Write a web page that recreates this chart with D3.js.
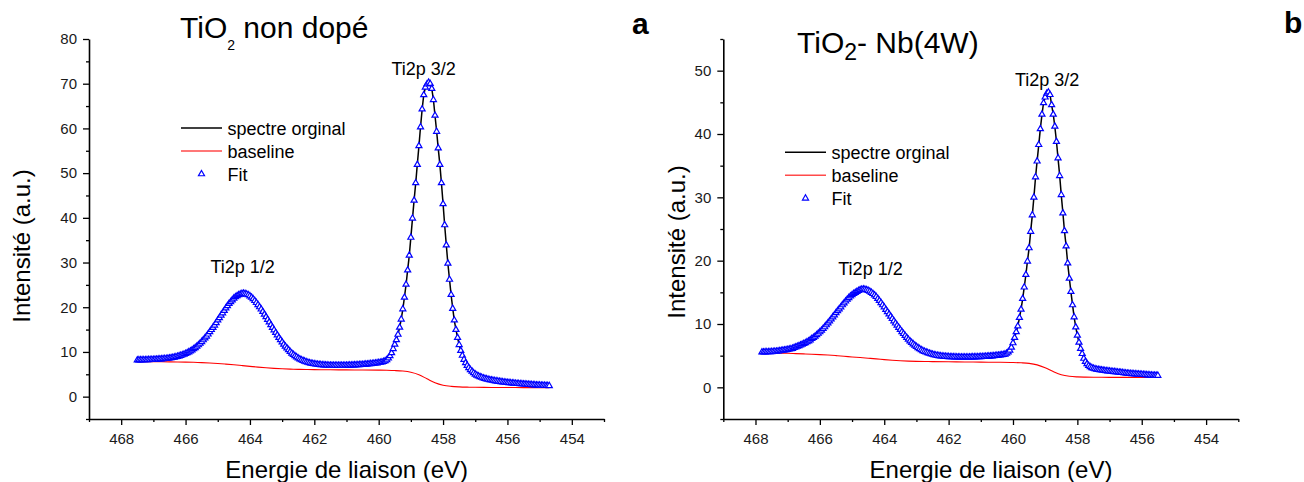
<!DOCTYPE html>
<html><head><meta charset="utf-8">
<script src="https://cdn.jsdelivr.net/npm/d3@7"></script>
<style>body{margin:0;background:#fff}svg{display:block}</style>
</head><body><svg id="c" width="1304" height="482"></svg>
<script>
// ---------- Panel a : TiO2 non dopé ----------
const energyA = [
467.5,467.45,467.4,467.35,467.3,467.25,467.2,467.15,467.1,467.05,
467,466.95,466.9,466.85,466.8,466.75,466.7,466.65,466.6,466.55,
466.5,466.45,466.4,466.35,466.3,466.25,466.2,466.15,466.1,466.05,
466,465.95,465.9,465.85,465.8,465.75,465.7,465.65,465.6,465.55,
465.5,465.45,465.4,465.35,465.3,465.25,465.2,465.15,465.1,465.05,
465,464.95,464.9,464.85,464.8,464.75,464.7,464.65,464.6,464.55,
464.5,464.45,464.4,464.35,464.3,464.25,464.2,464.15,464.1,464.05,
464,463.95,463.9,463.85,463.8,463.75,463.7,463.65,463.6,463.55,
463.5,463.45,463.4,463.35,463.3,463.25,463.2,463.15,463.1,463.05,
463,462.95,462.9,462.85,462.8,462.75,462.7,462.65,462.6,462.55,
462.5,462.45,462.4,462.35,462.3,462.25,462.2,462.15,462.1,462.05,
462,461.95,461.9,461.85,461.8,461.75,461.7,461.65,461.6,461.55,
461.5,461.45,461.4,461.35,461.3,461.25,461.2,461.15,461.1,461.05,
461,460.95,460.9,460.85,460.8,460.75,460.7,460.65,460.6,460.55,
460.5,460.45,460.4,460.35,460.3,460.25,460.2,460.15,460.1,460.05,
460,459.95,459.9,459.85,459.8,459.75,459.7,459.65,459.6,459.55,
459.5,459.45,459.4,459.35,459.3,459.25,459.2,459.15,459.1,459.05,
459,458.95,458.9,458.85,458.8,458.75,458.7,458.65,458.6,458.55,
458.5,458.45,458.4,458.35,458.3,458.25,458.2,458.15,458.1,458.05,
458,457.95,457.9,457.85,457.8,457.75,457.7,457.65,457.6,457.55,
457.5,457.45,457.4,457.35,457.3,457.25,457.2,457.15,457.1,457.05,
457,456.95,456.9,456.85,456.8,456.75,456.7,456.65,456.6,456.55,
456.5,456.45,456.4,456.35,456.3,456.25,456.2,456.15,456.1,456.05,
456,455.95,455.9,455.85,455.8,455.75,455.7,455.65,455.6,455.55,
455.5,455.45,455.4,455.35,455.3,455.25,455.2,455.15,455.1,455.05,
455,454.95,454.9,454.85,454.8,454.75,454.7];
const fitA = [
8.16,8.18,8.19,8.20,8.20,8.22,8.23,8.24,8.26,8.28,
8.29,8.32,8.34,8.37,8.38,8.41,8.44,8.49,8.51,8.56,
8.61,8.66,8.72,8.80,8.88,8.97,9.08,9.19,9.32,9.45,
9.63,9.80,9.98,10.19,10.40,10.67,10.92,11.25,11.55,11.89,
12.27,12.67,13.08,13.50,13.96,14.47,14.96,15.45,15.96,16.51,
17.1,17.6,18.2,18.7,19.25,19.8,20.3,20.8,21.2,21.6,
22.0,22.3,22.55,22.75,22.9,23.05,23.1,23.0,22.9,22.75,
22.5,22.2,21.85,21.45,21.0,20.55,20.05,19.55,19.0,18.4,
17.85,17.25,16.65,16.05,15.45,14.9,14.3,13.75,13.2,12.7,
12.2,11.7,11.25,10.85,10.45,10.05,9.7,9.4,9.1,8.85,
8.6,8.4,8.2,8.05,7.9,7.75,7.65,7.55,7.45,7.38,
7.3,7.25,7.2,7.15,7.12,7.09,7.06,7.04,7.02,7.0,
6.99,6.98,6.97,6.97,6.96,6.96,6.96,6.97,6.97,6.98,
6.99,7.0,7.01,7.02,7.04,7.06,7.08,7.1,7.12,7.14,
7.17,7.2,7.23,7.26,7.3,7.34,7.38,7.42,7.47,7.52,
7.58,7.65,7.73,7.83,7.98,8.2,8.6,9.1,9.8,10.7,
11.7,12.7,13.9,15.5,17.3,19.6,22.2,25.1,28.3,31.6,
35.6,39.9,43.9,47.8,51.9,56.1,60.3,64.3,67.5,69.2,
69.9,70.3,70.0,68.9,66.4,62.9,59.3,55.6,51.9,47.8,
43.1,38.4,33.9,29.8,26.2,22.8,19.7,17.1,15.0,13.2,
11.6,10.3,9.2,8.3,7.55,6.95,6.45,6.0,5.65,5.3,
5.0,4.78,4.58,4.42,4.28,4.15,4.03,3.93,3.84,3.76,
3.69,3.62,3.55,3.49,3.43,3.37,3.32,3.27,3.22,3.18,
3.14,3.10,3.06,3.02,2.98,2.95,2.92,2.89,2.86,2.83,
2.80,2.77,2.74,2.71,2.68,2.65,2.63,2.60,2.58,2.56,
2.54,2.52,2.50,2.48,2.46,2.44,2.42];
const spectreA = [
8.05,8.21,8.12,8.27,8.15,8.25,8.30,8.18,8.29,8.22,
8.35,8.26,8.40,8.33,8.45,8.36,8.50,8.44,8.58,8.52,
8.57,8.72,8.68,8.86,8.83,9.03,9.02,9.26,9.28,9.52,
9.60,9.86,9.95,10.25,10.36,10.72,10.88,11.30,11.50,11.95,
12.22,12.73,13.02,13.57,13.90,14.53,14.90,15.52,15.90,16.58,
17.02,17.68,18.12,18.78,19.18,19.88,20.22,20.88,21.12,21.68,
21.92,22.38,22.48,22.83,22.82,23.12,23.02,23.08,22.82,22.82,
22.58,22.12,21.93,21.38,21.08,20.47,20.13,19.47,19.08,18.33,
17.92,17.18,16.72,15.98,15.52,14.83,14.37,13.68,13.27,12.63,
12.27,11.63,11.32,10.78,10.52,9.98,9.77,9.33,9.17,8.78,
8.67,8.33,8.27,7.98,7.97,7.68,7.72,7.48,7.52,7.31,
7.37,7.18,7.27,7.08,7.19,7.02,7.13,6.97,7.09,6.93,
7.06,6.91,7.04,6.90,7.03,6.89,7.03,6.90,7.04,6.91,
7.06,6.93,7.08,6.95,7.11,6.99,7.15,7.03,7.19,7.07,
7.24,7.13,7.30,7.19,7.37,7.27,7.45,7.35,7.54,7.45,
7.65,7.58,7.80,7.76,8.05,8.13,8.67,9.03,9.87,10.63,
11.77,12.63,13.97,15.43,17.37,19.53,22.27,25.03,28.37,31.53,
35.67,39.83,43.97,47.73,51.97,56.03,60.37,64.23,67.57,69.13,
69.97,70.23,70.07,68.83,66.47,62.83,59.37,55.53,51.97,47.73,
43.17,38.33,33.97,29.73,26.27,22.73,19.77,17.03,15.07,13.13,
11.67,10.23,9.27,8.23,7.62,6.88,6.52,5.93,5.72,5.23,
5.07,4.71,4.65,4.35,4.35,4.08,4.10,3.86,3.91,3.69,
3.76,3.55,3.62,3.42,3.50,3.30,3.39,3.20,3.29,3.11,
3.21,3.03,3.13,2.95,3.05,2.88,2.99,2.82,2.93,2.76,
2.87,2.70,2.81,2.64,2.75,2.58,2.70,2.53,2.65,2.49,
2.61,2.45,2.57,2.41,2.53,2.37,2.45];
const baseEnergyA = [467.5,467.25,467,466.75,466.5,466.25,466,465.75,465.5,465.25,
465,464.75,464.5,464.25,464,463.75,463.5,463.25,463,462.75,
462.5,462.25,462,461.5,461,460.5,460,459.75,459.5,459.25,
459,458.75,458.5,458.25,458,457.75,457.5,457.25,457,456.5,
456,455.5,455,454.7];
const baselineA = [7.82,7.82,7.81,7.80,7.78,7.76,7.73,7.68,7.62,7.53,
7.42,7.28,7.12,6.95,6.78,6.61,6.46,6.33,6.23,6.16,
6.11,6.07,6.04,6.00,5.98,5.96,5.93,5.90,5.84,5.72,
5.45,4.90,4.00,3.10,2.55,2.30,2.18,2.12,2.09,2.06,
2.04,2.02,2.01,2.00];

// ---------- Panel b : TiO2- Nb(4W) ----------
const energyB = [
467.8,467.75,467.7,467.65,467.6,467.55,467.5,467.45,467.4,467.35,
467.3,467.25,467.2,467.15,467.1,467.05,467,466.95,466.9,466.85,
466.8,466.75,466.7,466.65,466.6,466.55,466.5,466.45,466.4,466.35,
466.3,466.25,466.2,466.15,466.1,466.05,466,465.95,465.9,465.85,
465.8,465.75,465.7,465.65,465.6,465.55,465.5,465.45,465.4,465.35,
465.3,465.25,465.2,465.15,465.1,465.05,465,464.95,464.9,464.85,
464.8,464.75,464.7,464.65,464.6,464.55,464.5,464.45,464.4,464.35,
464.3,464.25,464.2,464.15,464.1,464.05,464,463.95,463.9,463.85,
463.8,463.75,463.7,463.65,463.6,463.55,463.5,463.45,463.4,463.35,
463.3,463.25,463.2,463.15,463.1,463.05,463,462.95,462.9,462.85,
462.8,462.75,462.7,462.65,462.6,462.55,462.5,462.45,462.4,462.35,
462.3,462.25,462.2,462.15,462.1,462.05,462,461.95,461.9,461.85,
461.8,461.75,461.7,461.65,461.6,461.55,461.5,461.45,461.4,461.35,
461.3,461.25,461.2,461.15,461.1,461.05,461,460.95,460.9,460.85,
460.8,460.75,460.7,460.65,460.6,460.55,460.5,460.45,460.4,460.35,
460.3,460.25,460.2,460.15,460.1,460.05,460,459.95,459.9,459.85,
459.8,459.75,459.7,459.65,459.6,459.55,459.5,459.45,459.4,459.35,
459.3,459.25,459.2,459.15,459.1,459.05,459,458.95,458.9,458.85,
458.8,458.75,458.7,458.65,458.6,458.55,458.5,458.45,458.4,458.35,
458.3,458.25,458.2,458.15,458.1,458.05,458,457.95,457.9,457.85,
457.8,457.75,457.7,457.65,457.6,457.55,457.5,457.45,457.4,457.35,
457.3,457.25,457.2,457.15,457.1,457.05,457,456.95,456.9,456.85,
456.8,456.75,456.7,456.65,456.6,456.55,456.5,456.45,456.4,456.35,
456.3,456.25,456.2,456.15,456.1,456.05,456,455.95,455.9,455.85,
455.8,455.75,455.7,455.65,455.6,455.55,455.5];
const fitB = [
5.55,5.56,5.57,5.58,5.59,5.60,5.61,5.63,5.65,5.67,
5.72,5.75,5.79,5.83,5.87,5.91,5.96,6.01,6.06,6.12,
6.25,6.35,6.45,6.55,6.66,6.77,6.89,7.01,7.16,7.3,
7.47,7.67,7.85,8.05,8.27,8.5,8.74,8.98,9.27,9.53,
9.84,10.14,10.44,10.76,11.1,11.4,11.75,12.07,12.36,12.65,
13.0,13.3,13.59,13.88,14.14,14.39,14.6,14.8,14.96,15.1,
15.25,15.38,15.45,15.5,15.45,15.38,15.28,15.15,14.97,14.78,
14.55,14.3,14.0,13.68,13.35,13.0,12.65,12.27,11.91,11.56,
11.2,10.83,10.47,10.12,9.77,9.44,9.1,8.77,8.46,8.15,
7.85,7.56,7.3,7.05,6.83,6.62,6.42,6.24,6.08,5.92,
5.77,5.65,5.55,5.45,5.36,5.28,5.2,5.13,5.07,5.02,
4.98,4.94,4.91,4.88,4.86,4.84,4.82,4.81,4.80,4.79,
4.78,4.77,4.77,4.76,4.76,4.76,4.76,4.76,4.76,4.77,
4.77,4.78,4.78,4.79,4.80,4.81,4.82,4.83,4.85,4.86,
4.88,4.90,4.92,4.94,4.96,4.99,5.02,5.05,5.08,5.12,
5.15,5.22,5.35,5.55,5.85,6.3,7.0,7.85,8.75,9.65,
11.0,12.3,14.0,15.8,17.8,19.9,22.0,24.6,27.2,30.0,
33.2,35.7,38.3,40.8,43.1,44.9,45.8,46.4,46.6,46.2,
44.6,43.1,41.2,38.8,36.2,33.4,30.4,27.5,24.7,22.3,
19.6,17.2,15.1,13.0,11.1,9.5,8.2,7.1,6.1,5.3,
4.55,4.05,3.7,3.42,3.22,3.08,2.98,2.9,2.84,2.79,
2.75,2.71,2.67,2.63,2.6,2.57,2.54,2.51,2.48,2.45,
2.42,2.39,2.36,2.33,2.3,2.27,2.24,2.21,2.18,2.16,
2.14,2.12,2.1,2.08,2.06,2.04,2.02,2.0,1.98,1.96,
1.94,1.92,1.90,1.89,1.88,1.87,1.86];
const spectreB = [
5.48,5.62,5.51,5.64,5.53,5.66,5.55,5.69,5.59,5.73,
5.66,5.81,5.73,5.89,5.81,5.97,5.90,6.07,6.00,6.18,
6.19,6.41,6.39,6.61,6.60,6.83,6.83,7.07,7.10,7.36,
7.41,7.73,7.79,8.11,8.21,8.56,8.68,9.04,9.21,9.59,
9.78,10.20,10.38,10.82,11.04,11.46,11.69,12.13,12.30,12.71,
12.94,13.36,13.53,13.94,14.08,14.45,14.54,14.86,14.90,15.16,
15.19,15.44,15.39,15.56,15.39,15.44,15.22,15.21,14.91,14.84,
14.49,14.36,13.94,13.74,13.29,13.06,12.59,12.33,11.85,11.62,
11.14,10.89,10.41,10.18,9.71,9.50,9.04,8.83,8.40,8.21,
7.79,7.62,7.24,7.11,6.77,6.68,6.36,6.30,6.02,5.98,
5.71,5.71,5.49,5.51,5.30,5.34,5.14,5.19,5.01,5.08,
4.92,5.00,4.85,4.94,4.80,4.90,4.76,4.87,4.74,4.85,
4.72,4.83,4.71,4.82,4.70,4.82,4.70,4.82,4.70,4.83,
4.71,4.84,4.72,4.85,4.74,4.87,4.76,4.89,4.79,4.92,
4.82,4.96,4.86,5.00,4.90,5.05,4.96,5.11,5.02,5.18,
5.09,5.28,5.29,5.61,5.79,6.36,6.94,7.91,8.69,9.71,
10.94,12.36,13.94,15.86,17.74,19.96,21.94,24.66,27.14,30.06,
33.14,35.76,38.24,40.86,43.04,44.96,45.74,46.46,46.54,46.26,
44.54,43.16,41.14,38.86,36.14,33.46,30.34,27.56,24.64,22.36,
19.54,17.26,15.04,13.06,11.04,9.56,8.14,7.16,6.04,5.36,
4.49,4.11,3.64,3.48,3.16,3.14,2.92,2.96,2.78,2.85,
2.69,2.77,2.61,2.69,2.54,2.63,2.48,2.57,2.42,2.51,
2.36,2.45,2.30,2.39,2.24,2.33,2.18,2.27,2.12,2.22,
2.08,2.18,2.04,2.14,2.00,2.10,1.96,2.06,1.92,2.02,
1.88,1.98,1.84,1.95,1.82,1.93,1.80];
const baseEnergyB = [467.8,467.5,467.25,467,466.75,466.5,466.25,466,465.75,465.5,
465.25,465,464.75,464.5,464.25,464,463.75,463.5,463.25,463,
462.5,462,461.5,461,460.5,460,459.75,459.5,459.25,459,
458.75,458.5,458.25,458,457.75,457.5,457,456.5,456,455.5];
const baselineB = [5.45,5.43,5.40,5.37,5.33,5.28,5.23,5.17,5.10,5.01,
4.91,4.80,4.70,4.60,4.50,4.38,4.28,4.20,4.14,4.10,
4.06,4.03,4.00,3.98,3.96,3.92,3.87,3.78,3.55,3.10,
2.50,2.00,1.75,1.65,1.61,1.59,1.58,1.57,1.57,1.56];

// ---------- ticks & labels ----------
const xMajorTicks = [468,466,464,462,460,458,456,454];
const xMinorTicks = [469,467,465,463,461,459,457,455,453];
const yMajorTicksA = [0,10,20,30,40,50,60,70,80];
const yMinorTicksA = [-5,5,15,25,35,45,55,65,75];
const yMajorTicksB = [0,10,20,30,40,50];
const yMinorTicksB = [-5,5,15,25,35,45,55];
const legendLabels = ["spectre orginal","baseline","Fit"];
const xTitle = "Energie de liaison (eV)";
const yTitle = "Intensité (a.u.)";
const peakLabels = ["Ti2p 3/2","Ti2p 1/2"];

// ---------- drawing ----------
const FONT = '"Liberation Sans", Arial, Helvetica, sans-serif';
const svg = d3.select("#c").style("font-family", FONT);
const tri = d3.symbol().type(d3.symbolTriangle).size(16);

function drawPanel(cfg) {
  const x = d3.scaleLinear().domain([469, 453]).range(cfg.xRange);
  const y = d3.scaleLinear().domain(cfg.yDomain).range([419, 39]);
  const g = svg.append("g");

  // axes
  g.append("g").attr("transform", `translate(${cfg.xRange[0]},0)`)
    .call(d3.axisLeft(y).tickValues(cfg.yMajor).tickSize(6).tickSizeOuter(0).tickPadding(6));
  g.append("g").attr("transform", `translate(${cfg.xRange[0]},0)`)
    .call(d3.axisLeft(y).tickValues(cfg.yMinor).tickSize(3).tickSizeOuter(0).tickFormat(""))
    .select(".domain").remove();
  g.append("g").attr("transform", "translate(0,419)")
    .call(d3.axisBottom(x).tickValues(xMajorTicks).tickSize(6).tickSizeOuter(0).tickPadding(8).tickFormat(d3.format("d")));
  g.append("g").attr("transform", "translate(0,419)")
    .call(d3.axisBottom(x).tickValues(xMinorTicks).tickSize(3).tickSizeOuter(0).tickFormat(""))
    .select(".domain").remove();
  g.selectAll(".domain").attr("stroke", "#000").attr("stroke-width", 1.6);
  g.selectAll(".tick line").attr("stroke", "#000").attr("stroke-width", 1.3);
  g.selectAll(".tick text").attr("fill", "#1a1a1a").style("font-family", FONT).style("font-size", "15px");

  // series
  const spec = cfg.energy.map((e, i) => [e, cfg.spectre[i]]).filter(d => d[1] != null);
  const fit = cfg.energy.map((e, i) => [e, cfg.fit[i]]).filter(d => d[1] != null);
  const base = cfg.baseEnergy.map((e, i) => [e, cfg.baseline[i]]);
  const line = d3.line().x(d => x(d[0])).y(d => y(d[1]));
  g.append("path").datum(spec).attr("d", line).attr("fill", "none")
    .attr("stroke", "#000").attr("stroke-width", 1.5);
  g.append("path").datum(base).attr("d", line.curve(d3.curveMonotoneX)).attr("fill", "none")
    .attr("stroke", "#ff0000").attr("stroke-width", 1.1);
  g.append("g").selectAll("path").data(fit).join("path")
    .attr("d", tri)
    .attr("transform", d => `translate(${x(d[0])},${y(d[1])})`)
    .attr("fill", "#fff").attr("stroke", "#0000ff").attr("stroke-width", 1.2);

  // axis titles
  g.append("text").attr("x", cfg.xTitleX).attr("y", 478).attr("text-anchor", "middle")
    .style("font-size", "24px").attr("fill", "#000").text(xTitle);
  g.append("text").attr("transform", `translate(${cfg.yTitleX},${cfg.yTitleY}) rotate(-90)`)
    .attr("text-anchor", "middle").style("font-size", "24px").attr("fill", "#000").text(yTitle);

  // legend
  const L = cfg.legend;
  g.append("line").attr("x1", L.x).attr("x2", L.x + 41).attr("y1", L.y).attr("y2", L.y)
    .attr("stroke", "#000").attr("stroke-width", 1.5);
  g.append("line").attr("x1", L.x).attr("x2", L.x + 41).attr("y1", L.y + 23).attr("y2", L.y + 23)
    .attr("stroke", "#ff4a4a").attr("stroke-width", 1.5);
  g.append("path").attr("d", tri).attr("transform", `translate(${L.x + 20.5},${L.y + 46})`)
    .attr("fill", "#fff").attr("stroke", "#0000ff").attr("stroke-width", 1.2);
  legendLabels.forEach((t, i) => {
    g.append("text").attr("x", L.x + 46.5).attr("y", L.y + 6.5 + i * 23)
      .style("font-size", "18px").attr("fill", "#000").text(t);
  });

  // peak labels
  cfg.peaks.forEach((p, i) => {
    g.append("text").attr("x", p[0]).attr("y", p[1]).style("font-size", "18px")
      .attr("fill", "#000").text(peakLabels[i]);
  });
  return g;
}

drawPanel({
  xRange: [89, 604], yDomain: [-5, 80], yMajor: yMajorTicksA, yMinor: yMinorTicksA,
  energy: energyA, fit: fitA, spectre: spectreA, baseEnergy: baseEnergyA, baseline: baselineA,
  xTitleX: 346.7, yTitleX: 30, yTitleY: 246, legend: {x: 181, y: 128},
  peaks: [[391.5, 75], [210.5, 272.5]]
});
drawPanel({
  xRange: [723.3, 1238.3], yDomain: [-5, 55], yMajor: yMajorTicksB, yMinor: yMinorTicksB,
  energy: energyB, fit: fitB, spectre: spectreB, baseEnergy: baseEnergyB, baseline: baselineB,
  xTitleX: 991, yTitleX: 685, yTitleY: 242, legend: {x: 785, y: 152.3},
  peaks: [[1015, 86], [838.3, 275]]
});

// titles
const t1 = svg.append("text").attr("x", 180).attr("y", 37.5).style("font-size", "30px").attr("fill", "#000");
t1.append("tspan").text("TiO");
t1.append("tspan").attr("dy", 12.5).style("font-size", "14px").text("2");
t1.append("tspan").attr("dy", -12.5).text(" non dopé");
const t2 = svg.append("text").attr("x", 797).attr("y", 53.3).style("font-size", "30px").attr("fill", "#000");
t2.append("tspan").text("TiO");
t2.append("tspan").attr("dy", 7).style("font-size", "23px").text("2");
t2.append("tspan").attr("dy", -7).text("- Nb(4W)");
svg.append("text").attr("x", 632).attr("y", 33.5).style("font-size", "30px").style("font-weight", "bold").text("a");
svg.append("text").attr("x", 1284).attr("y", 33).style("font-size", "30px").style("font-weight", "bold").text("b");
</script></body></html>
